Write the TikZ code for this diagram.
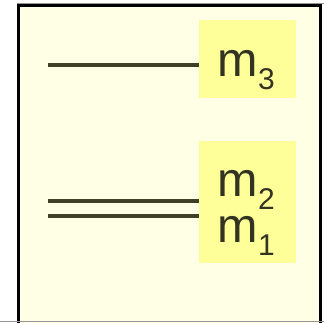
\documentclass[tikz,border=0pt]{standalone}
\usepackage{fontspec}
\setmainfont{Liberation Sans}
\definecolor{bgyellow}{RGB}{255,255,230}
\definecolor{boxyellow}{RGB}{255,255,153}
\definecolor{inkolive}{RGB}{64,64,38}
\definecolor{textolive}{RGB}{51,51,34}
\definecolor{edgegray}{RGB}{150,150,150}
\newcommand{\masssub}[1]{\raisebox{-12.5pt}{\fontsize{30}{30}\selectfont #1}}
\begin{document}
\begin{tikzpicture}[x=1pt,y=1pt,
  labelbox/.style={fill=boxyellow, draw=none, inner sep=0pt, anchor=north west},
  masslabel/.style={text=textolive, inner sep=0pt, anchor=base west, font=\fontsize{48.5}{50}\selectfont},
  level/.style={draw=inkolive, line width=4pt}]
\useasboundingbox (0,0) rectangle (324,-322);
\fill[white] (0,0) rectangle (324,-322);
% frame
\draw[edgegray, line width=1pt] (17,-3) -- (324,-3);
\filldraw[fill=bgyellow, draw=black, line width=3pt] (18.2,-326) -- (18.2,-5) -- (320.2,-5) -- (320.2,-326);
\draw[edgegray, line width=1.2pt] (0,-321.4) -- (324,-321.4);
% boxes
\node[labelbox, minimum width=97pt, minimum height=78pt] (b3) at (199,-20) {};
\node[labelbox, minimum width=97pt, minimum height=122pt] (b21) at (199,-141) {};
% labels
\node[masslabel] (t3) at (217.5,-76.7) {m\masssub{3}};
\node[masslabel] (t2) at (217.5,-196.7) {m\masssub{2}};
\node[masslabel] (t1) at (217.5,-242.7) {m\masssub{1}};
% level lines
\coordinate (s3) at (48,-65.4);
\coordinate (s2) at (48,-201.3);
\coordinate (s1) at (48,-216.2);
\draw[level] (s3) -- (s3 -| b3.west);
\draw[level] (s2) -- (s2 -| b21.west);
\draw[level] (s1) -- (s1 -| b21.west);
\end{tikzpicture}
\end{document}
